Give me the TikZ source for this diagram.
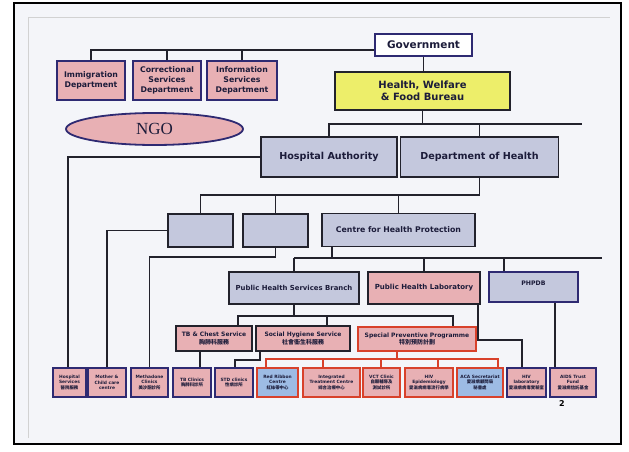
\documentclass[tikz,border=0pt]{standalone}
\usepackage{fontspec}
\setmainfont{DejaVu Sans}
\newfontfamily\cjk{Noto Sans CJK TC}
\newfontfamily\ngofont{Liberation Serif}
\usetikzlibrary{shapes.geometric}

\definecolor{navy}{HTML}{2E2A72}
\definecolor{ink}{HTML}{22222C}
\definecolor{pinkfill}{HTML}{E8B0B4}
\definecolor{lavfill}{HTML}{C4C8DD}
\definecolor{yelfill}{HTML}{EDEE6A}
\definecolor{redline}{HTML}{D8412B}
\definecolor{bluefill}{HTML}{9DBBE4}
\definecolor{paper}{HTML}{F4F5F9}
\definecolor{txt}{HTML}{1C1C3A}

\newcommand\fsz[2]{\fontsize{#1}{#2}\selectfont}

\tikzset{
  unit/.style={rectangle, align=center, inner sep=0pt, text=txt, font=\bfseries},
  wh/.style 2 args={minimum width=#1, minimum height=#2},
  navybox/.style={unit, draw=navy, line width=1.7pt, fill=pinkfill},
  greybox/.style={unit, draw=ink, line width=1.8pt, fill=lavfill},
  pinkbox/.style={unit, draw=ink, line width=1.8pt, fill=pinkfill},
  redbox/.style={unit, draw=redline, line width=1.7pt, fill=pinkfill},
  redblue/.style={unit, draw=redline, line width=1.7pt, fill=bluefill},
  leaf/.style={font=\bfseries\fsz{4.4}{5.3}},
  mid/.style={font=\bfseries\fsz{6}{7.5}},
  conn/.style={draw=ink, line width=1.4pt},
  redconn/.style={draw=redline, line width=1.4pt},
}

\begin{document}
\begin{tikzpicture}[x=1pt,y=-1pt]
\useasboundingbox (0,0) rectangle (629,452);
\fill[white] (0,0) rectangle (629,452);
\fill[paper] (14,3) rectangle (621,444);
\draw[gray!35, line width=0.8pt] (28,438) -- (28,17) -- (610,17);
\draw[black, line width=2.2pt] (14,3) rectangle (621,444);

% ---- top level ----
\node[unit, draw=navy, line width=1.8pt, fill=white, wh={97pt}{22pt},
      font=\bfseries\fsz{10.5}{12}] (gov) at (423.5,45) {Government};
\node[unit, draw=ink, line width=1.8pt, fill=yelfill, wh={175pt}{38pt},
      font=\bfseries\fsz{10}{12.5}] (hwf) at (422.5,91) {Health, Welfare\\\& Food Bureau};

\node[navybox, wh={68pt}{39pt}, font=\bfseries\fsz{7.8}{10}] (imm) at (91,80.5) {Immigration\\Department};
\node[navybox, wh={68pt}{39pt}, font=\bfseries\fsz{7.8}{10}] (cor) at (167,80.5) {Correctional\\Services\\Department};
\node[navybox, wh={70pt}{39pt}, font=\bfseries\fsz{7.8}{10}] (inf) at (242,80.5) {Information\\Services\\Department};

\node[ellipse, draw=navy, line width=1.8pt, fill=pinkfill, inner sep=0pt,
      minimum width=177pt, minimum height=32pt, text=txt,
      font=\ngofont\fsz{17}{18}] (ngo) at (154.5,129) {NGO};

% ---- second level ----
\node[greybox, wh={136pt}{40pt}, font=\bfseries\fsz{9.6}{11}] (ha) at (329,157) {Hospital Authority};
\node[greybox, wh={158pt}{40pt}, font=\bfseries\fsz{9.6}{11}] (doh) at (479.5,157) {Department of Health};

\node[greybox, wh={65pt}{33pt}] (b1) at (200.5,230.5) {};
\node[greybox, wh={65pt}{33pt}] (b2) at (275.5,230.5) {};
\node[greybox, wh={153pt}{33pt}, font=\bfseries\fsz{7.8}{9}] (chp) at (398.5,230) {Centre for Health Protection};

\node[greybox, wh={130pt}{32pt}, font=\bfseries\fsz{6.9}{8}] (phsb) at (294,288) {Public Health Services Branch};
\node[pinkbox, wh={112pt}{32pt}, font=\bfseries\fsz{7}{8}] (phl) at (424,288) {Public Health Laboratory};
\node[greybox, draw=navy, wh={89pt}{30pt}, text height=5pt, text depth=9pt,
      font=\bfseries\fsz{6.2}{7}] (phpdb) at (533.5,287) {PHPDB};

\node[pinkbox, mid, wh={76pt}{25pt}] (tb) at (214,338.5) {TB \& Chest Service\\{\cjk 胸肺科服務}};
\node[pinkbox, mid, wh={94pt}{25pt}] (sh) at (303,338.5) {Social Hygiene Service\\{\cjk 社會衞生科服務}};
\node[redbox, mid, line width=2.2pt, wh={118pt}{24pt}] (spp) at (417,339) {Special Preventive Programme\\{\cjk 特別預防計劃}};

% ---- service units ----
\node[navybox, leaf, wh={33pt}{29pt}] (hs) at (69.5,382.5) {Hospital\\Services\\{\cjk 醫院服務}};
\node[navybox, leaf, wh={38pt}{29pt}] (mc) at (107,382.5) {Mother \&\\Child care\\centre};
\node[navybox, leaf, wh={37pt}{29pt}] (meth) at (149.5,382.5) {Methadone\\Clinics\\{\cjk 美沙酮診所}};
\node[navybox, leaf, wh={38pt}{29pt}] (tbc) at (192,382.5) {TB Clinics\\{\cjk 胸肺科診所}};
\node[navybox, leaf, wh={38pt}{29pt}] (std) at (234,382.5) {STD clinics\\{\cjk 性病診所}};
\node[redblue, leaf, wh={41pt}{29pt}] (rr) at (277.5,382.5) {Red Ribbon\\Centre\\{\cjk 紅絲帶中心}};
\node[redbox, leaf, wh={57pt}{29pt}] (itc) at (331.5,382.5) {Integrated\\Treatment Centre\\{\cjk 綜合治療中心}};
\node[redbox, leaf, wh={37pt}{29pt}] (vct) at (381.5,382.5) {VCT Clinic\\{\cjk 自願輔導及}\\{\cjk 測試診所}};
\node[redbox, leaf, line width=2.2pt, wh={48pt}{29pt}] (hive) at (429,382.5) {HIV\\Epidemiology\\{\cjk 愛滋病病毒流行病學}};
\node[redblue, leaf, wh={46pt}{29pt}] (aca) at (480,382.5) {ACA Secretariat\\{\cjk 愛滋病顧問局}\\{\cjk 秘書處}};
\node[navybox, leaf, wh={39pt}{29pt}] (hivl) at (526.5,382.5) {HIV\\laboratory\\{\cjk 愛滋病病毒實驗室}};
\node[navybox, leaf, wh={46pt}{29pt}] (atf) at (573,382.5) {AIDS Trust\\Fund\\{\cjk 愛滋病信託基金}};

\node[font=\bfseries\fsz{8}{9}, text=black] (pg) at (562,404) {2};

% ---- bus coordinates ----
\coordinate (gbus) at (0,50);
\coordinate (hbusend) at (582,124);
\coordinate (dbus) at (0,195);
\coordinate (cx) at (332,258);
\coordinate (cbusend) at (602,258);
\coordinate (px) at (238,316);
\coordinate (sx) at (327,316);
\coordinate (qx) at (453,316);
\coordinate (tx) at (200,0);
\coordinate (shx) at (260,360);
\coordinate (stdx) at (235,360);
\coordinate (spx) at (397,359);
\coordinate (r1) at (266,359);
\coordinate (r2) at (323,359);
\coordinate (r3) at (381,359);
\coordinate (r4) at (438,359);
\coordinate (r5) at (498,359);
\coordinate (lx) at (478,340);
\coordinate (lx2) at (522,340);
\coordinate (fx) at (555,0);
\coordinate (hax) at (68,157);
\coordinate (phx) at (504,258);

% ---- connectors ----
\draw[conn] (imm.north) |- (gov.west |- gbus);
\draw[conn] (cor.north) -- (cor.north |- gbus);
\draw[conn] (inf.north) -- (inf.north |- gbus);
\draw[conn] (gov.south) -- (gov.south |- hwf.north);

\draw[conn] (hwf.south) -- (hwf.south |- hbusend);
\draw[conn] (ha.north) |- (hbusend);
\draw[conn] (doh.north) -- (doh.north |- hbusend);

\draw[conn] (ha.west) -- (hax) -- (hax |- hs.north);

\draw[conn] (doh.south) -- (doh.south |- dbus) -- (b1.north |- dbus) -- (b1.north);
\draw[conn] (b2.north |- dbus) -- (b2.north);
\draw[conn] (chp.north |- dbus) -- (chp.north);

\draw[conn] (b1.west) -| (mc.north);
\draw[conn] (b2.south) -- ++(0,9) -| (meth.north);

\draw[conn] (chp.south -| cx) -- (cx);
\draw[conn] (phsb.north |- cx) -- (cbusend);
\draw[conn] (phsb.north) -- (phsb.north |- cx);
\draw[conn] (phl.north) -- (phl.north |- cx);
\draw[conn] (phpdb.north -| phx) -- (phx);

\draw[conn] (phsb.south) -- (phsb.south |- px);
\draw[conn] (tb.north -| px) -- (px) -- (qx) -- (spp.north -| qx);
\draw[conn] (sh.north -| sx) -- (sx);

\draw[conn] (tb.south -| tx) -- (tbc.north -| tx);
\draw[conn] (sh.south -| shx) -- (shx) -- (stdx) -- (std.north -| stdx);

\draw[redconn] (spp.south -| spx) -- (spx);
\draw[redconn] (rr.north -| r1) -- (r1) -- (r5) -- (aca.north -| r5);
\draw[redconn] (itc.north -| r2) -- (r2);
\draw[redconn] (vct.north -| r3) -- (r3);
\draw[redconn] (hive.north -| r4) -- (r4);

\draw[conn] (phl.south -| lx) -- (lx) -- (lx2) -- (hivl.north -| lx2);
\draw[conn] (phpdb.south -| fx) -- (atf.north -| fx);
\end{tikzpicture}
\end{document}
